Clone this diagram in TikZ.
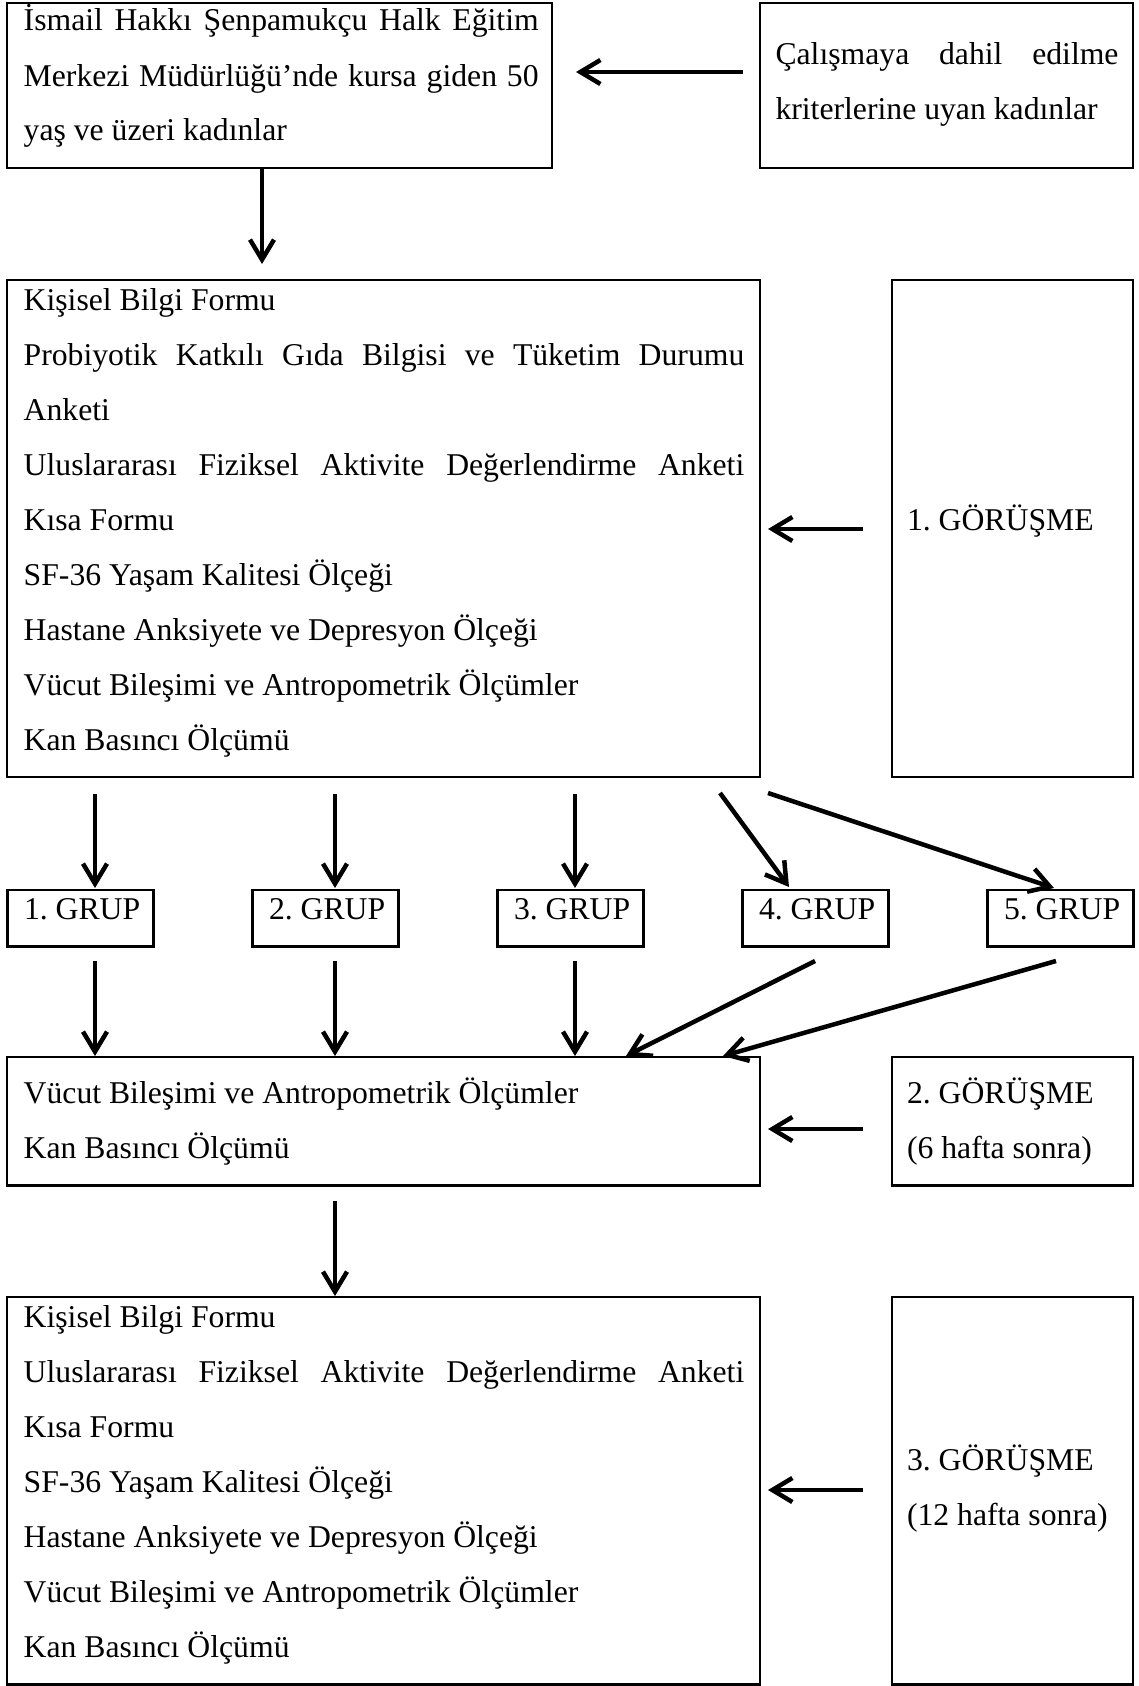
\documentclass[tikz,border=0pt]{standalone}
\usepackage{fontspec}
\setmainfont{Liberation Serif}
\usetikzlibrary{arrows.meta}
\frenchspacing
\newcommand{\mytxtfont}{\fontsize{31.7pt}{55pt}\selectfont\frenchspacing}
\newcommand{\jline}[1]{\makebox[\linewidth][s]{#1}}
\begin{document}
\begin{tikzpicture}[x=1pt,y=-1pt,
  box/.style={draw, line width=2.5pt, rectangle, inner sep=0pt, outer sep=0pt, anchor=north west},
  txt/.style={inner sep=0pt, outer sep=0pt, anchor=base west, font=\mytxtfont},
  arr/.style={line width=4.5pt, -{Straight Barb[length=20pt,width=24pt]}}]

\useasboundingbox (0,0) rectangle (1138,1686);

% ---------- boxes ----------
\node[box, minimum width=545pt, minimum height=165pt] (A) at (7,3) {};
\node[box, minimum width=373pt, minimum height=165pt] (B) at (760,3) {};
\node[box, minimum width=753pt, minimum height=497pt] (C) at (7,280) {};
\node[box, minimum width=241pt, minimum height=497pt] (D) at (892,280) {};
\node[box, minimum width=146pt, minimum height=56.5pt] (G1) at (7.5,890) {};
\node[box, minimum width=146pt, minimum height=56.5pt] (G2) at (252.5,890) {};
\node[box, minimum width=146pt, minimum height=56.5pt] (G3) at (497.5,890) {};
\node[box, minimum width=146pt, minimum height=56.5pt] (G4) at (742.5,890) {};
\node[box, minimum width=146pt, minimum height=56.5pt] (G5) at (987.5,890) {};
\node[box, minimum width=753pt, minimum height=128.5pt] (E) at (7,1057) {};
\node[box, minimum width=241pt, minimum height=128.5pt] (F) at (892,1057) {};
\node[box, minimum width=753pt, minimum height=387.5pt] (G) at (7,1297) {};
\node[box, minimum width=241pt, minimum height=387.5pt] (H) at (892,1297) {};

% ---------- texts ----------
\node[txt] (tA) at (23.7,31) {\parbox[t]{515pt}{%
\jline{İsmail Hakkı Şenpamukçu Halk Eğitim}\\
\jline{Merkezi Müdürlüğü’nde kursa giden 50}\\
yaş ve üzeri kadınlar}};

\node[txt] (tB) at (775.5,64) {\parbox[t]{343pt}{%
\jline{Çalışmaya dahil edilme}\\
kriterlerine uyan kadınlar}};

\node[txt] (tC) at (23.7,310) {\parbox[t]{720.6pt}{%
Kişisel Bilgi Formu\\
\jline{Probiyotik Katkılı Gıda Bilgisi ve Tüketim Durumu}\\
Anketi\\
\jline{Uluslararası Fiziksel Aktivite Değerlendirme Anketi}\\
Kısa Formu\\
SF-36 Yaşam Kalitesi Ölçeği\\
Hastane Anksiyete ve Depresyon Ölçeği\\
Vücut Bileşimi ve Antropometrik Ölçümler\\
Kan Basıncı Ölçümü}};

\node[txt] (tD) at (907,530) {1. GÖRÜŞME};

\node[txt] (tG1) at (24,919.5) {1. GRUP};
\node[txt] (tG2) at (269,919.5) {2. GRUP};
\node[txt] (tG3) at (514,919.5) {3. GRUP};
\node[txt] (tG4) at (759,919.5) {4. GRUP};
\node[txt] (tG5) at (1004,919.5) {5. GRUP};

\node[txt] (tE) at (23.7,1103.5) {\parbox[t]{720.6pt}{%
Vücut Bileşimi ve Antropometrik Ölçümler\\
Kan Basıncı Ölçümü}};

\node[txt] (tF) at (907,1103.5) {\parbox[t]{220pt}{%
2. GÖRÜŞME\\
(6 hafta sonra)}};

\node[txt] (tG) at (23.7,1327) {\parbox[t]{720.6pt}{%
Kişisel Bilgi Formu\\
\jline{Uluslararası Fiziksel Aktivite Değerlendirme Anketi}\\
Kısa Formu\\
SF-36 Yaşam Kalitesi Ölçeği\\
Hastane Anksiyete ve Depresyon Ölçeği\\
Vücut Bileşimi ve Antropometrik Ölçümler\\
Kan Basıncı Ölçümü}};

\node[txt] (tH) at (907,1470) {\parbox[t]{225pt}{%
3. GÖRÜŞME\\
(12 hafta sonra)}};

% ---------- arrow end points ----------
\coordinate (ba1) at (743,72);    \coordinate (ba2) at (576,72);
\coordinate (ac1) at (262,169);   \coordinate (ac2) at (262,264);
\coordinate (dc1) at (863,529);   \coordinate (dc2) at (768,529);
\coordinate (c1a) at (95,794);    \coordinate (c1b) at (95,888);
\coordinate (c2a) at (335,794);   \coordinate (c2b) at (335,888);
\coordinate (c3a) at (575,794);   \coordinate (c3b) at (575,888);
\coordinate (c4a) at (720,793);   \coordinate (c4b) at (789,887);
\coordinate (c5a) at (768,793);   \coordinate (c5b) at (1054,888);
\coordinate (g1a) at (95,961);    \coordinate (g1b) at (95,1056);
\coordinate (g2a) at (335,961);   \coordinate (g2b) at (335,1056);
\coordinate (g3a) at (575,961);   \coordinate (g3b) at (575,1056);
\coordinate (g4a) at (815,961);   \coordinate (g4b) at (626,1056);
\coordinate (g5a) at (1056,961);  \coordinate (g5b) at (723,1056);
\coordinate (fe1) at (863,1129);  \coordinate (fe2) at (768,1129);
\coordinate (eg1) at (335,1201);  \coordinate (eg2) at (335,1296);
\coordinate (hg1) at (863,1490);  \coordinate (hg2) at (768,1490);

% ---------- arrows ----------
\draw[arr] (ba1) -- (ba2);
\draw[arr] (ac1) -- (ac2);
\draw[arr] (dc1) -- (dc2);
\draw[arr] (c1a) -- (c1b);
\draw[arr] (c2a) -- (c2b);
\draw[arr] (c3a) -- (c3b);
\draw[arr] (c4a) -- (c4b);
\draw[arr] (c5a) -- (c5b);
\draw[arr] (g1a) -- (g1b);
\draw[arr] (g2a) -- (g2b);
\draw[arr] (g3a) -- (g3b);
\draw[arr] (g4a) -- (g4b);
\draw[arr] (g5a) -- (g5b);
\draw[arr] (fe1) -- (fe2);
\draw[arr] (eg1) -- (eg2);
\draw[arr] (hg1) -- (hg2);
\end{tikzpicture}
\end{document}
